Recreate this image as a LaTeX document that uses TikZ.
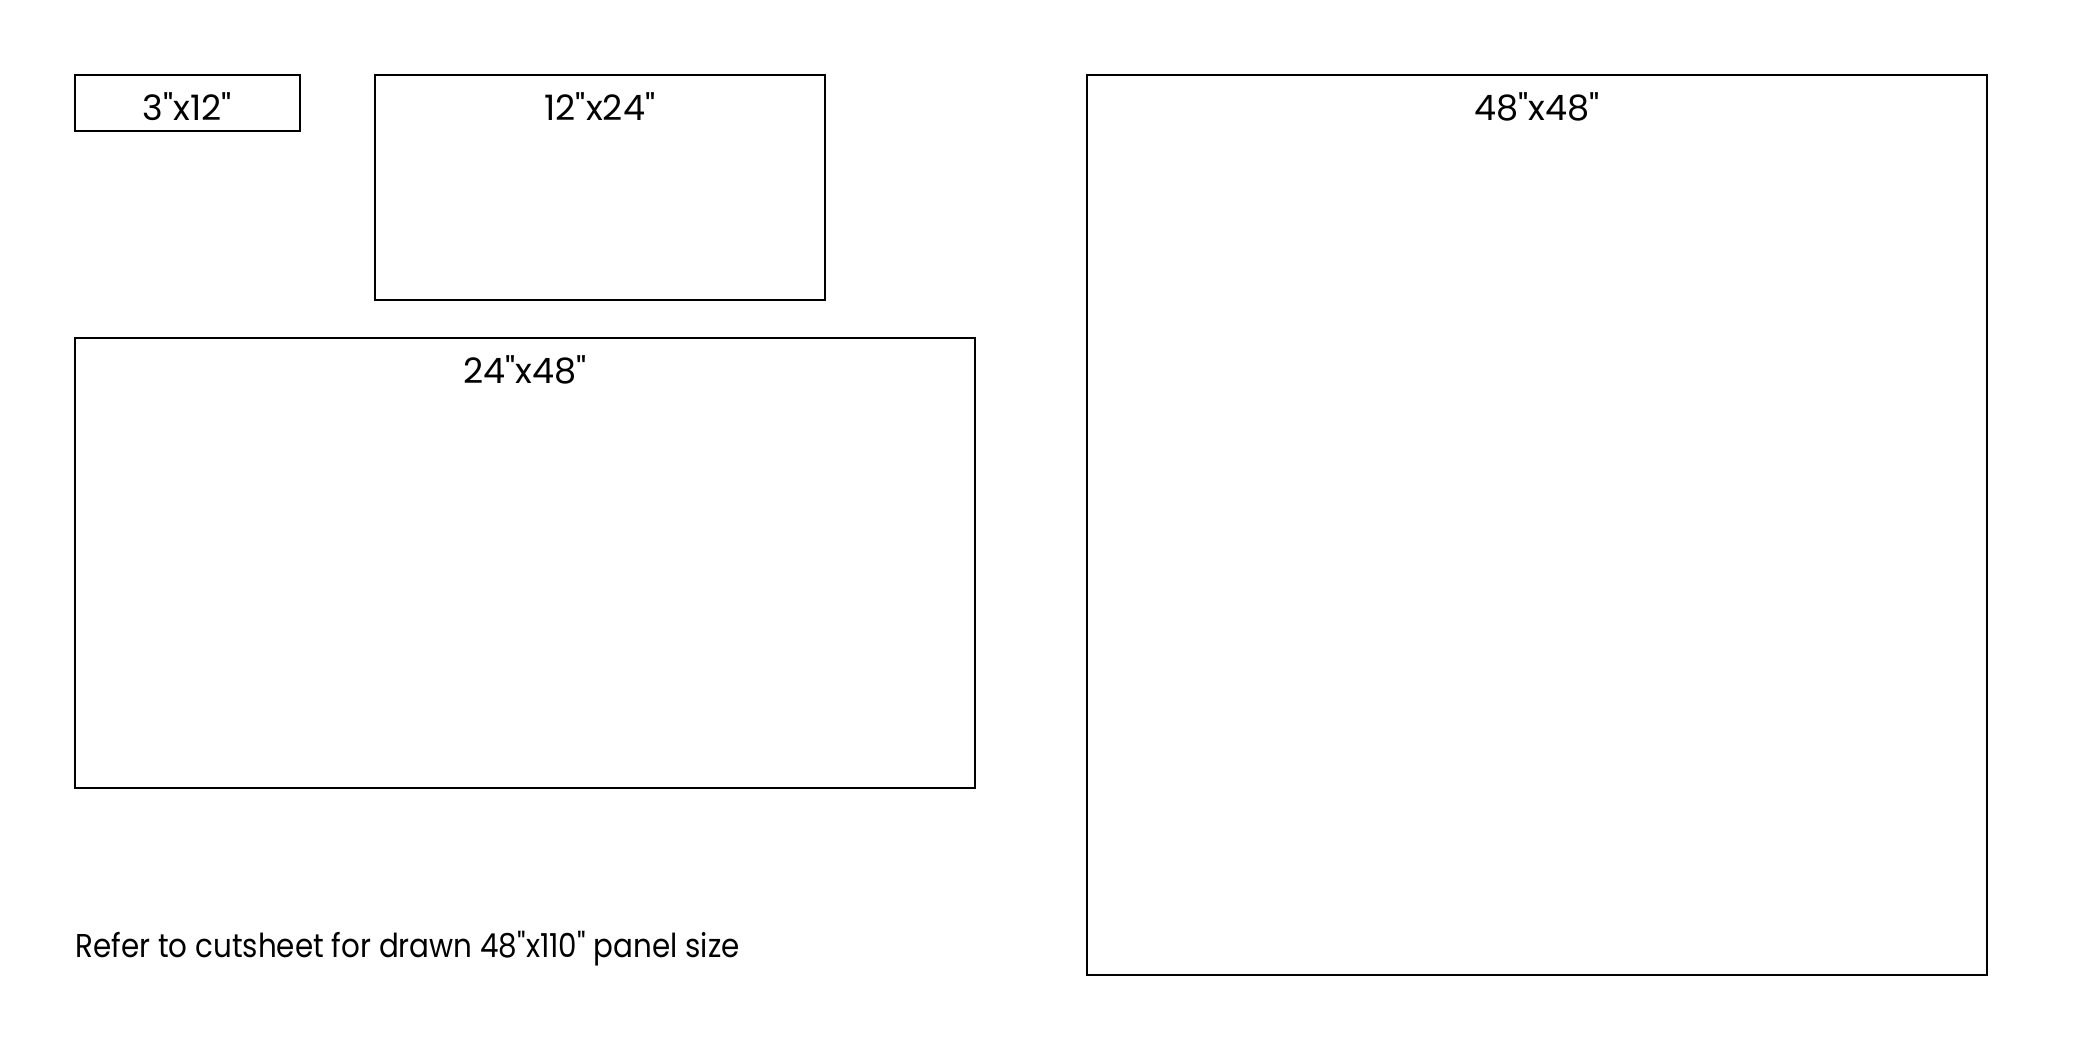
\documentclass[tikz,border=0pt]{standalone}
\usepackage{fontspec}
\setmainfont{Poppins}[Ligatures=TeXOff]
\newfontfamily\notefont{Poppins}[Ligatures=TeXOff,FakeStretch=0.89]
\begin{document}
\begin{tikzpicture}[x=0.5pt,y=0.5pt,
  panel/.style={draw,line width=0.8pt,anchor=north west,inner sep=0pt,outer sep=0pt},
  size/.style={anchor=base,inner sep=0pt,font=\fontsize{17.5}{21}\selectfont}]
\useasboundingbox (0,0) rectangle (2083,1042);
\pgfmathsetmacro{\u}{9.375}% pt per inch of panel
\node[panel,minimum width=12*\u pt,minimum height=3*\u pt](p3x12) at (75,967){};
\node[panel,minimum width=24*\u pt,minimum height=12*\u pt](p12x24) at (375,967){};
\node[panel,minimum width=48*\u pt,minimum height=24*\u pt](p24x48) at (75,704){};
\node[panel,minimum width=48*\u pt,minimum height=48*\u pt](p48x48) at (1087,967){};
\node[size](l3x12) at ([yshift=-23pt]p3x12.north){3"x12"};
\node[size](l12x24) at ([yshift=-23pt]p12x24.north){12"x24"};
\node[size](l24x48) at ([yshift=-23pt]p24x48.north){24"x48"};
\node[size](l48x48) at ([yshift=-23pt]p48x48.north){48"x48"};
\node[anchor=base west,inner sep=0pt,font=\notefont\fontsize{16.5}{20}\selectfont](note) at (75,84){Refer to cutsheet for drawn 48"x110" panel size};
\end{tikzpicture}
\end{document}
